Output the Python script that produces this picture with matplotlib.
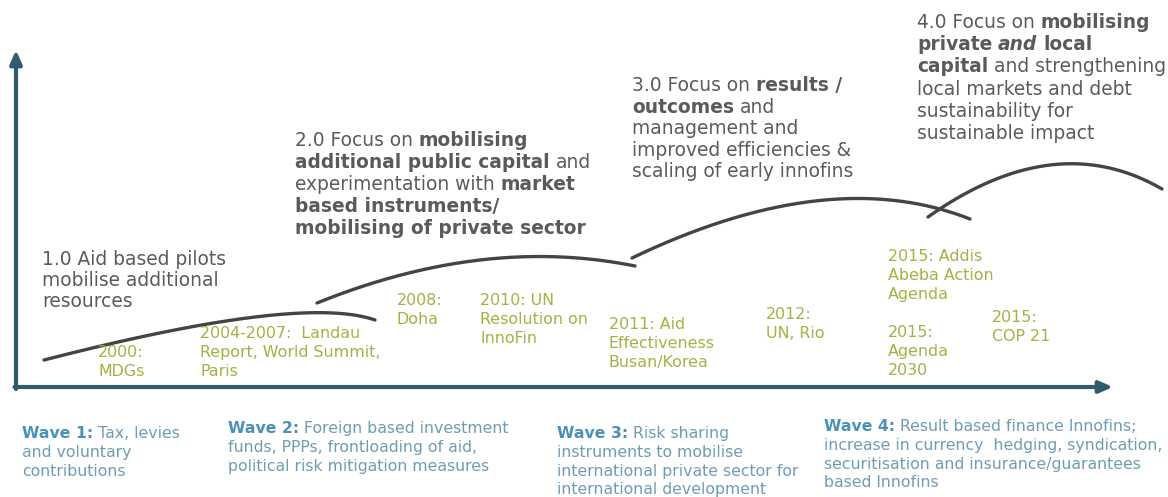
import matplotlib
matplotlib.use("Agg")
import matplotlib.pyplot as plt
import numpy as np

plt.rcParams['font.family'] = ['DejaVu Sans']

# ---------------- data ----------------
wave_names = ["Wave 1", "Wave 2", "Wave 3", "Wave 4"]
# arcs: start, middle, end (pixel coordinates of the diagram)
arc_start = [(44, 360), (317, 303), (632, 258), (928, 217)]
arc_mid = [(255, 317), (480, 260), (815, 201), (1050, 165)]
arc_end = [(375, 320), (635, 266), (970, 219), (1162, 189)]

# headings: list of lines, each line a list of (text, style) segments
headings = [
    [[("1.0 Aid based pilots", "n")],
     [("mobilise additional", "n")],
     [("resources", "n")]],
    [[("2.0 Focus on", "n"), ("mobilising", "b")],
     [("additional public capital", "b"), ("and", "n")],
     [("experimentation with", "n"), ("market", "b")],
     [("based instruments/", "b")],
     [("mobilising of private sector", "b")]],
    [[("3.0 Focus on", "n"), ("results /", "b")],
     [("outcomes", "b"), ("and", "n")],
     [("management and", "n")],
     [("improved efficiencies &", "n")],
     [("scaling of early innofins", "n")]],
    [[("4.0 Focus on", "n"), ("mobilising", "b")],
     [("private", "b"), ("and", "bi"), ("local", "b")],
     [("capital", "b"), ("and strengthening", "n")],
     [("local markets and debt", "n")],
     [("sustainability for", "n")],
     [("sustainable impact", "n")]],
]
heading_pos = [(42, 265), (295, 146), (632, 91), (917, 28)]
heading_step = [21.0, 22.0, 21.6, 22.2]

events = ["2000:\nMDGs",
          "2004-2007:  Landau\nReport, World Summit,\nParis",
          "2008:\nDoha",
          "2010: UN\nResolution on\nInnoFin",
          "2011: Aid\nEffectiveness\nBusan/Korea",
          "2012:\nUN, Rio",
          "2015: Addis\nAbeba Action\nAgenda",
          "2015:\nAgenda\n2030",
          "2015:\nCOP 21"]
event_pos = [(98, 357), (200, 338), (397, 305), (480, 305), (609, 329),
             (766, 319), (888, 261), (888, 337), (992, 322)]

wave_desc = [
    ["Tax, levies", "and voluntary", "contributions"],
    ["Foreign based investment", "funds, PPPs, frontloading of aid,",
     "political risk mitigation measures"],
    ["Risk sharing", "instruments to mobilise",
     "international private sector for", "international development"],
    ["Result based finance Innofins;",
     "increase in currency  hedging, syndication,",
     "securitisation and insurance/guarantees", "based Innofins"],
]
wave_pos = [(22, 438), (228, 433), (557, 438), (824, 431)]

# ---------------- style ----------------
W, H = 1168, 497
HEAD_C = "#5a5a5a"
EVENT_C = "#a2b243"
WAVE_B = "#4a92b5"
WAVE_C = "#6e9db2"
AXIS_C = "#2f5b6c"
ARC_C = "#444444"
HEAD_FS = 13.4
EVENT_FS = 11.4
WAVE_FS = 11.3

fig = plt.figure(figsize=(W / 100, H / 100), dpi=100)
ax = fig.add_axes([0, 0, 1, 1])
ax.set_xlim(0, W)
ax.set_ylim(H, 0)
ax.axis("off")

# axes arrows
ax.annotate("", xy=(16, 50), xytext=(16, 389),
            arrowprops=dict(arrowstyle="-|>,head_length=0.8,head_width=0.35",
                            color=AXIS_C, lw=3, shrinkA=0, shrinkB=0))
ax.annotate("", xy=(1113, 387), xytext=(14.5, 387),
            arrowprops=dict(arrowstyle="-|>,head_length=0.8,head_width=0.35",
                            color=AXIS_C, lw=3, shrinkA=0, shrinkB=0))

# arcs (quadratic Bezier passing through mid at t=0.5)
t = np.linspace(0, 1, 200)
for s, m, e in zip(arc_start, arc_mid, arc_end):
    s, m, e = np.array(s, float), np.array(m, float), np.array(e, float)
    c = 2 * m - (s + e) / 2
    pts = ((1 - t) ** 2)[:, None] * s + (2 * t * (1 - t))[:, None] * c + (t ** 2)[:, None] * e
    ax.plot(pts[:, 0], pts[:, 1], color=ARC_C, lw=2.4, solid_capstyle="round")


def style_kw(st):
    kw = {}
    if "b" in st:
        kw["fontweight"] = "bold"
    if "i" in st:
        kw["fontstyle"] = "italic"
    return kw


def rich_line(x, y, segs, fs, colors):
    prev = None
    gap = 0.318 * fs
    for txt, st in segs:
        col = colors.get(st, colors["n"])
        if prev is None:
            prev = ax.text(x, y, txt, fontsize=fs, color=col, ha="left",
                           va="baseline", **style_kw(st))
        else:
            prev = ax.annotate(txt, xy=(1, 0), xycoords=prev,
                               xytext=(gap, 0), textcoords="offset points",
                               fontsize=fs, color=col, ha="left", va="bottom",
                               **style_kw(st))


# headings
for lines, (x, y), step in zip(headings, heading_pos, heading_step):
    for i, segs in enumerate(lines):
        rich_line(x, y + i * step, segs, HEAD_FS, {"n": HEAD_C})

# events
for txt, (x, y) in zip(events, event_pos):
    for i, line in enumerate(txt.split("\n")):
        ax.text(x, y + i * 19, line, fontsize=EVENT_FS, color=EVENT_C,
                ha="left", va="baseline")

# wave descriptions
for name, desc, (x, y) in zip(wave_names, wave_desc, wave_pos):
    for i, line in enumerate(desc):
        if i == 0:
            segs = [(name + ":", "b"), (line, "n")]
        else:
            segs = [(line, "n")]
        rich_line(x, y + i * 18.8, segs, WAVE_FS, {"n": WAVE_C, "b": WAVE_B})

fig.savefig("out.png", dpi=100)
